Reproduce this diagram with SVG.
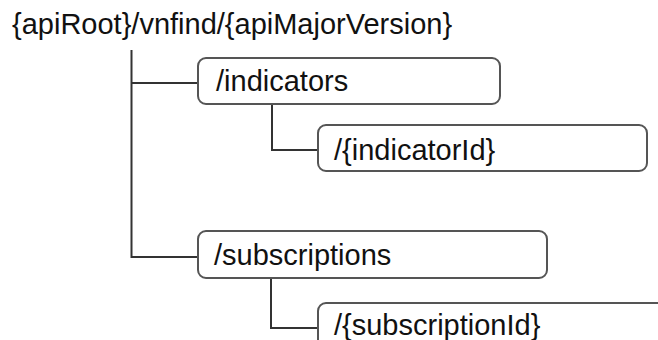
<svg xmlns="http://www.w3.org/2000/svg" width="658" height="340" viewBox="0 0 658 340">
<style>
text{font-family:"Liberation Sans",Arial,sans-serif;font-size:29px;fill:#111}
.box{fill:#fff;stroke:#555;stroke-width:2}
.conn{fill:none;stroke:#333;stroke-width:2}
</style>
<rect width="658" height="340" fill="#fff"/>
<g id="root"><text x="12" y="34">{apiRoot}/vnfind/{apiMajorVersion}</text></g>
<g id="connectors">
<path class="conn" d="M131.5 50V257H198"/>
<path class="conn" d="M131.5 83H198"/>
<path class="conn" d="M272 104V150H318"/>
<path class="conn" d="M271 278V328H318"/>
</g>
<g id="indicators"><rect class="box" x="198" y="58" width="302" height="46" rx="8"/><text x="216" y="91">/indicators</text></g>
<g id="indicatorId"><rect class="box" x="318" y="125" width="329" height="46" rx="8"/><text x="334" y="160">/{indicatorId}</text></g>
<g id="subscriptions"><rect class="box" x="198" y="231" width="349" height="47" rx="8"/><text x="214" y="265">/subscriptions</text></g>
<g id="subscriptionId"><rect class="box" x="318" y="303" width="400" height="100" rx="8"/><text x="334" y="335">/{subscriptionId}</text></g>
</svg>
